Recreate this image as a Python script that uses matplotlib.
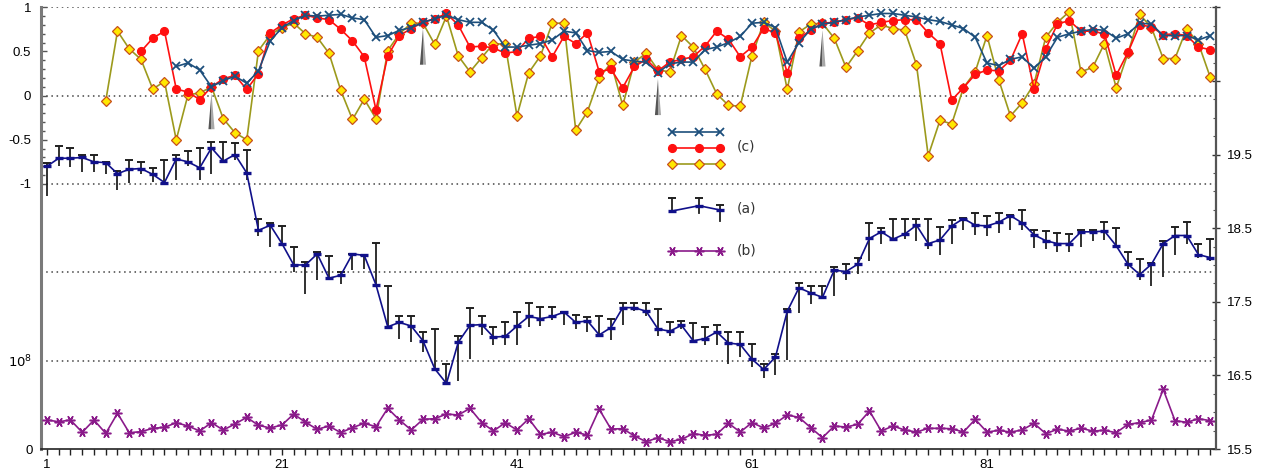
import numpy as np
import matplotlib
matplotlib.use("Agg")
import matplotlib.pyplot as plt
from matplotlib.ticker import FixedLocator

plt.rcParams['font.family'] = ['Liberation Sans', 'DejaVu Sans']

# ---------------- data ----------------
x_all = np.arange(1, 101)

# (c) correlation series
blue_start = 12
c_blue = [0.33, 0.37, 0.29, 0.10, 0.17, 0.22, 0.14, 0.28, 0.62, 0.77,
          0.85, 0.91, 0.90, 0.91, 0.92, 0.88, 0.86, 0.66, 0.68, 0.74,
          0.77, 0.83, 0.87, 0.91, 0.86, 0.83, 0.83, 0.74, 0.55, 0.55,
          0.57, 0.59, 0.63, 0.73, 0.71, 0.51, 0.49, 0.50, 0.41, 0.39,
          0.38, 0.26, 0.36, 0.38, 0.38, 0.52, 0.55, 0.60, 0.67, 0.82,
          0.83, 0.77, 0.38, 0.60, 0.75, 0.81, 0.83, 0.86, 0.89, 0.91,
          0.93, 0.93, 0.91, 0.89, 0.86, 0.84, 0.80, 0.76, 0.66, 0.37,
          0.34, 0.41, 0.44, 0.31, 0.44, 0.66, 0.70, 0.73, 0.75, 0.74,
          0.65, 0.70, 0.82, 0.81, 0.68, 0.68, 0.68, 0.63, 0.68]

red_start = 9
c_red = [0.50, 0.65, 0.73, 0.075, 0.04, -0.045, 0.10, 0.19, 0.23, 0.07,
         0.25, 0.71, 0.80, 0.87, 0.91, 0.88, 0.86, 0.75, 0.62, 0.44,
         -0.16, 0.45, 0.68, 0.76, 0.83, 0.87, 0.93, 0.80, 0.55, 0.56,
         0.54, 0.48, 0.50, 0.65, 0.67, 0.44, 0.67, 0.59, 0.71, 0.27,
         0.30, 0.09, 0.33, 0.41, 0.28, 0.38, 0.41, 0.44, 0.56, 0.73,
         0.64, 0.44, 0.55, 0.76, 0.71, 0.26, 0.65, 0.74, 0.82, 0.83,
         0.86, 0.88, 0.80, 0.83, 0.85, 0.86, 0.86, 0.71, 0.59, -0.05,
         0.09, 0.24, 0.29, 0.28, 0.40, 0.70, 0.08, 0.53, 0.81, 0.85,
         0.73, 0.73, 0.70, 0.23, 0.49, 0.80, 0.78, 0.69, 0.70, 0.68,
         0.55, 0.52]

yellow_start = 6
c_yellow = [-0.06, 0.73, 0.53, 0.41, 0.075, 0.16, -0.50, 0.01, 0.03, 0.10,
            -0.26, -0.42, -0.50, 0.51, 0.69, 0.77, 0.82, 0.70, 0.66, 0.48,
            0.06, -0.27, -0.04, -0.26, 0.51, 0.70, 0.82, 0.82, 0.58, 0.90,
            0.45, 0.27, 0.43, 0.59, 0.58, -0.23, 0.26, 0.45, 0.82, 0.82,
            -0.39, -0.18, 0.20, 0.37, -0.11, 0.38, 0.48, 0.29, 0.27, 0.68,
            0.55, 0.30, 0.02, -0.11, -0.12, 0.45, 0.83, 0.73, 0.07, 0.72,
            0.81, 0.82, 0.65, 0.32, 0.51, 0.71, 0.80, 0.76, 0.74, 0.35,
            -0.68, -0.28, -0.32, 0.09, 0.27, 0.68, 0.18, -0.23, -0.08, 0.13,
            0.66, 0.83, 0.95, 0.27, 0.32, 0.59, 0.09, 0.48, 0.92, 0.77,
            0.42, 0.42, 0.76, 0.59, 0.21]

# markers (grey wedges) below the blue series
wedge_x = [15, 33, 53, 67]

# (a) value with asymmetric range (right axis)
a_val = [19.34, 19.45, 19.45, 19.46, 19.40, 19.39, 19.24, 19.30, 19.31, 19.23,
         19.12, 19.44, 19.40, 19.32, 19.59, 19.41, 19.50, 19.25, 18.47, 18.54,
         18.29, 18.00, 18.00, 18.15, 17.82, 17.86, 18.15, 18.13, 17.73, 17.16,
         17.22, 17.17, 16.97, 16.59, 16.39, 16.95, 17.18, 17.19, 17.02, 17.03,
         17.17, 17.30, 17.27, 17.30, 17.36, 17.22, 17.24, 17.05, 17.15, 17.42,
         17.42, 17.37, 17.13, 17.10, 17.18, 16.97, 17.00, 17.09, 16.94, 16.92,
         16.72, 16.58, 16.75, 17.37, 17.69, 17.62, 17.56, 17.93, 17.91, 18.01,
         18.36, 18.45, 18.35, 18.42, 18.54, 18.29, 18.34, 18.53, 18.63, 18.54,
         18.53, 18.58, 18.67, 18.57, 18.41, 18.33, 18.29, 18.29, 18.45, 18.45,
         18.46, 18.26, 18.01, 17.87, 18.01, 18.29, 18.40, 18.40, 18.14, 18.10]
a_hi = [19.39, 19.62, 19.59, 19.49, 19.49, 19.40, 19.27, 19.42, 19.40, 19.32,
        19.42, 19.49, 19.55, 19.59, 19.67, 19.67, 19.66, 19.56, 18.63, 18.57,
        18.53, 18.25, 18.04, 18.18, 18.12, 17.91, 18.15, 18.13, 18.30, 17.72,
        17.31, 17.31, 17.09, 17.13, 16.66, 17.04, 17.42, 17.31, 17.16, 17.23,
        17.36, 17.49, 17.43, 17.43, 17.36, 17.32, 17.29, 17.31, 17.27, 17.49,
        17.49, 17.48, 17.40, 17.23, 17.24, 17.21, 17.16, 17.18, 17.09, 17.09,
        16.92, 16.66, 16.79, 17.40, 17.75, 17.72, 17.71, 17.97, 18.01, 18.09,
        18.57, 18.50, 18.62, 18.63, 18.62, 18.63, 18.51, 18.61, 18.64, 18.71,
        18.67, 18.71, 18.68, 18.75, 18.48, 18.46, 18.43, 18.42, 18.48, 18.48,
        18.58, 18.50, 18.17, 18.08, 18.03, 18.33, 18.51, 18.58, 18.29, 18.35]
a_lo = [18.94, 19.35, 19.33, 19.26, 19.26, 19.24, 19.02, 19.11, 19.24, 19.13,
        19.12, 19.16, 19.35, 19.16, 19.24, 19.38, 19.42, 19.15, 18.39, 18.24,
        18.29, 17.90, 17.61, 17.80, 17.82, 17.74, 17.93, 17.95, 17.73, 17.16,
        17.00, 16.96, 16.82, 16.59, 16.39, 16.43, 16.72, 17.05, 16.91, 16.91,
        16.91, 17.16, 17.17, 17.25, 17.18, 17.13, 17.09, 17.05, 16.98, 17.18,
        17.37, 17.30, 17.03, 17.03, 17.13, 16.94, 16.91, 16.91, 16.66, 16.75,
        16.62, 16.47, 16.51, 16.71, 17.35, 17.47, 17.56, 17.58, 17.80, 17.88,
        18.06, 18.29, 18.32, 18.35, 18.32, 18.21, 18.14, 18.28, 18.48, 18.41,
        18.39, 18.44, 18.48, 18.48, 18.23, 18.21, 18.17, 18.18, 18.24, 18.32,
        18.34, 18.26, 17.94, 17.80, 17.71, 17.83, 18.14, 18.28, 18.09, 18.05]

# (b) values in units of 1e7 (left lower scale)
b_val = [3.28, 3.09, 3.28, 1.89, 3.28, 1.77, 4.04, 1.85, 1.96, 2.34,
         2.45, 2.98, 2.60, 2.04, 2.98, 2.15, 2.83, 3.58, 2.68, 2.38,
         2.72, 3.96, 3.02, 2.23, 2.60, 1.85, 2.42, 2.91, 2.53, 4.60,
         3.28, 2.15, 3.36, 3.43, 3.96, 3.85, 4.60, 2.98, 2.04, 2.98,
         2.15, 3.43, 1.66, 1.89, 1.40, 1.89, 1.58, 4.49, 2.26, 2.30,
         1.47, 0.83, 1.28, 0.83, 1.09, 1.74, 1.55, 1.66, 2.91, 1.92,
         2.98, 2.38, 2.91, 3.85, 3.58, 2.42, 1.28, 2.60, 2.49, 2.79,
         4.30, 2.04, 2.60, 2.15, 1.92, 2.34, 2.34, 2.30, 1.92, 3.36,
         1.92, 2.11, 1.92, 2.15, 2.91, 1.74, 2.23, 2.04, 2.34, 2.04,
         2.11, 1.85, 2.79, 2.98, 3.28, 6.75, 3.21, 3.02, 3.43, 3.21]

x_ticks = [1, 21, 41, 61, 81]
c_ticks = [1, 0.5, 0, -0.5, -1]
c_ticklabels = ['1', '0.5', '0', '-0.5', '-1']
b_ticks = [0, 10]
b_ticklabels = ['0', r'$10^8$']
a_ticks = [15.5, 16.5, 17.5, 18.5, 19.5, 20.5, 21.5]
a_ticklabels = ['15.5', '16.5', '17.5', '18.5', '19.5', '', '']

# ---------------- styles ----------------
BLUE = '#1d4f7c'
RED = '#ff1010'
OLIVE = '#9c9a1c'
YEL = '#ffe800'
YEL_EDGE = '#c8501a'
NAVY = '#10108a'
PURPLE = '#8a1a8a'
GRID = '#444444'
FS = 9.5
B_MARK = (6, 2, 90)

W, H = 1261, 473
L_PX, R_PX, T_PX, B_PX = 41, 1215.5, 7.3, 449

fig = plt.figure(figsize=(W / 100, H / 100), dpi=100)
ax = fig.add_axes([L_PX / W, (H - B_PX) / H, (R_PX - L_PX) / W, (B_PX - T_PX) / H])
ax_b = ax.twinx()
ax_a = ax.twinx()

XMIN, XMAX = 0.49, 100.45
ax.set_xlim(XMIN, XMAX)
ax.set_ylim(-4, 1)
ax_b.set_ylim(0, 50)
ax_a.set_ylim(15.5, 21.5)

# grid lines (dotted)
for gy in [1, 0, -1, -2, -3]:
    ax.axhline(gy, color=GRID, lw=1.1, ls=(0, (1.0, 2.4)), zorder=0.5)

# --- (c) correlation series ---
xb = np.arange(blue_start, blue_start + len(c_blue))
xr = np.arange(red_start, red_start + len(c_red))
xy = np.arange(yellow_start, yellow_start + len(c_yellow))
ax.plot(xy, c_yellow, color=OLIVE, lw=1.2, marker='D', ms=4.6,
        mfc=YEL, mec=YEL_EDGE, mew=0.9, zorder=3)
ax.plot(xr, c_red, color=RED, lw=1.2, marker='o', ms=5.6,
        mfc=RED, mec=RED, zorder=4)
ax.plot(xb, c_blue, color=BLUE, lw=1.2, marker='x', ms=5.5,
        mec=BLUE, mew=1.3, zorder=5)

# grey wedges under the blue series
blue_map = dict(zip(xb, c_blue))
for wx in wedge_x:
    tip = blue_map[wx] - 0.07
    base = tip - 0.41
    ax.fill([wx - 0.26, wx, wx], [base, tip, base], color='#555555', lw=0, zorder=2)
    ax.fill([wx, wx + 0.26, wx], [tip, base, base], color='#a8a8a8', lw=0, zorder=2)

# --- (a) values with ranges ---
ax_a.vlines(x_all, a_lo, a_hi, colors='#202020', lw=1.3, zorder=2)
ax_a.plot(x_all, a_hi, ls='none', marker='_', ms=5.5, mew=1.4, color='#202020', zorder=2)
ax_a.plot(x_all, a_val, color=NAVY, lw=1.2, marker='_', ms=6, mew=2.4, zorder=3)

# --- (b) values ---
ax_b.plot(x_all, b_val, color=PURPLE, lw=1.2, marker=B_MARK, ms=7,
          mew=1.1, mec=PURPLE, zorder=3)

# ---------------- axes styling ----------------
for s in ['top', 'right']:
    ax.spines[s].set_visible(False)
ax.spines['left'].set_color('#7a7a7a')
ax.spines['left'].set_linewidth(2.2)
ax.spines['bottom'].set_color('#222222')
ax.spines['bottom'].set_linewidth(1.2)
for s in ax_b.spines.values():
    s.set_visible(False)
for s in ['top', 'left', 'bottom']:
    ax_a.spines[s].set_visible(False)
ax_a.spines['right'].set_color('#555555')
ax_a.spines['right'].set_linewidth(1.6)

# x ticks
ax.set_xticks(x_ticks)
ax.set_xticklabels([str(v) for v in x_ticks], fontsize=FS)
ax.xaxis.set_minor_locator(FixedLocator(list(range(1, 101))))
ax.tick_params(axis='x', which='both', direction='out', length=4.5, width=1.0,
               color='#222222', pad=3)

# left correlation ticks
ax.set_yticks(c_ticks)
ax.set_yticklabels(c_ticklabels, fontsize=FS)
ax.yaxis.set_minor_locator(FixedLocator([round(v, 2) for v in np.arange(-1, 1.001, 0.1)]))
ax.tick_params(axis='y', which='major', direction='in', length=4.5, width=1.0,
               color='#555555', pad=7)
ax.tick_params(axis='y', which='minor', direction='in', length=3, width=1.0,
               color='#555555')

# left lower (b) labels
ax_b.yaxis.tick_left()
ax_b.set_yticks(b_ticks)
ax_b.set_yticklabels(b_ticklabels, fontsize=FS)
ax_b.tick_params(axis='y', length=0, pad=6)

# right (a) ticks
ax_a.set_yticks(a_ticks)
ax_a.set_yticklabels(a_ticklabels, fontsize=FS)
ax_a.yaxis.set_minor_locator(FixedLocator([round(v, 2) for v in np.arange(15.5, 21.51, 0.25)]))
ax_a.tick_params(axis='y', which='major', direction='inout', length=6, width=1.0,
                 color='#333333', pad=5)
ax_a.tick_params(axis='y', which='minor', direction='in', length=2.5, width=0.8,
                 color='#555555')


# ---------------- custom legend ----------------
def px2ax(px, py):
    return (px - L_PX) / (R_PX - L_PX), (B_PX - py) / (B_PX - T_PX)


leg_x = [672, 699, 720]
tr = ax.transAxes
fx = [px2ax(p, 0)[0] for p in leg_x]
for yy, kw in [(131.7, dict(color=BLUE, marker='x', ms=5.5, mew=1.3)),
               (147.7, dict(color=RED, marker='o', ms=5.6)),
               (164.3, dict(color=OLIVE, marker='D', ms=4.6, mfc=YEL, mec=YEL_EDGE, mew=0.9))]:
    fy = px2ax(0, yy)[1]
    ax.plot(fx, [fy] * 3, transform=tr, lw=1.2, clip_on=False, zorder=6, **kw)

# (a) legend sample
leg_a_pt = [211.0, 205.7, 210.0]
leg_a_hi = [197.7, 197.7, 205.0]
leg_a_lo = [211.7, 213.3, 220.7]
for xx, yp, yh, yl in zip(fx, leg_a_pt, leg_a_hi, leg_a_lo):
    ax.plot([xx, xx], [px2ax(0, yl)[1], px2ax(0, yh)[1]], transform=tr,
            color='#202020', lw=1.3, zorder=6)
    ax.plot([xx], [px2ax(0, yh)[1]], transform=tr, marker='_', ms=5.5,
            mew=1.4, color='#202020', zorder=6)
ax.plot(fx, [px2ax(0, v)[1] for v in leg_a_pt], transform=tr, color=NAVY,
        lw=1.2, marker='_', ms=6, mew=2.4, zorder=7)

# (b) legend sample
fyb = px2ax(0, 250.7)[1]
ax.plot(fx, [fyb] * 3, transform=tr, color=PURPLE, lw=1.2, marker=B_MARK,
        ms=7, mew=1.1, zorder=6)

tx = px2ax(737, 0)[0]
for label, yy in [('(c)', 147.0), ('(a)', 209.0), ('(b)', 250.7)]:
    ax.text(tx, px2ax(0, yy)[1], label, transform=tr, fontsize=10,
            family=['DejaVu Sans'], color='#333333', va='center', ha='left')

fig.savefig('out.png', dpi=100)
